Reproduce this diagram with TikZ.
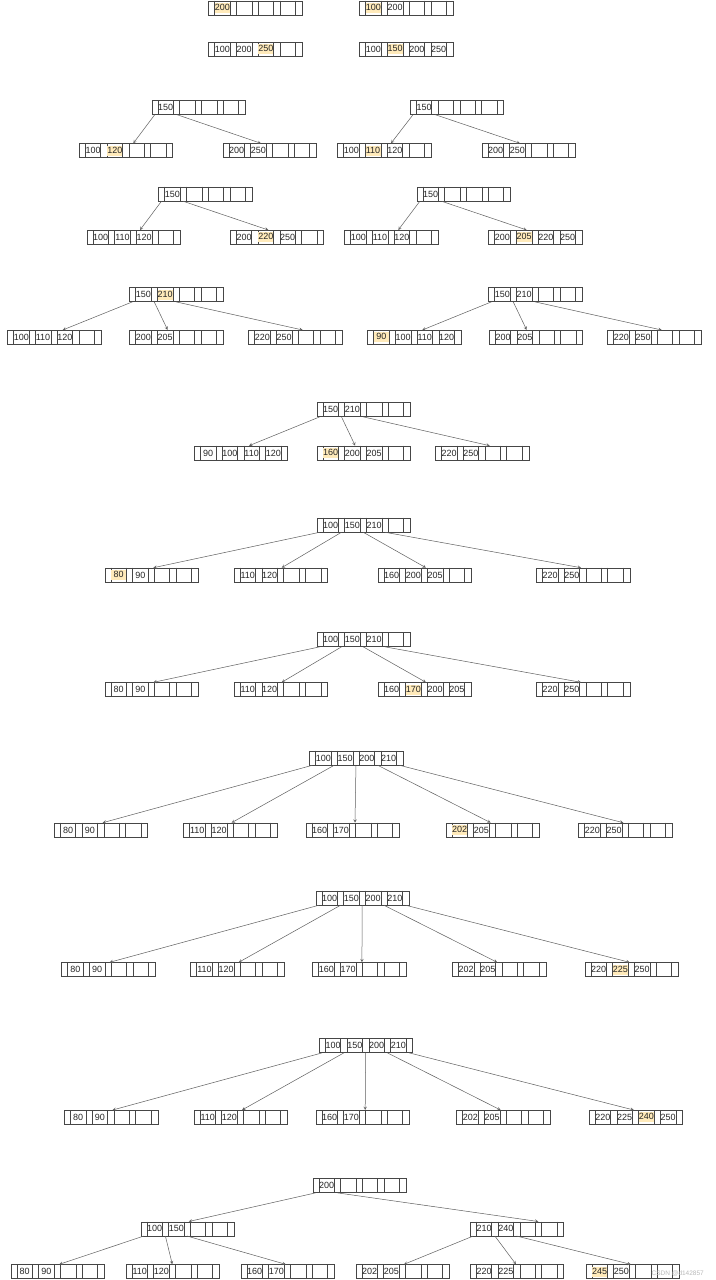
\documentclass[tikz,border=0pt]{standalone}
\usepackage{fontspec}
\setmainfont{Liberation Sans}
\usepackage{tikz}
\usetikzlibrary{arrows,positioning}
\usepackage{xcolor}
\definecolor{cellgray}{RGB}{70,70,70}
\definecolor{linkgray}{RGB}{95,95,95}
\definecolor{hlfill}{RGB}{255,234,186}
\definecolor{wmgray}{RGB}{185,185,185}
\tikzstyle{bnode} = [draw=cellgray, line width=0.55pt, minimum width=93.3pt, minimum height=14pt, inner sep=0pt, anchor=north west]
\tikzstyle{divider} = [draw=cellgray, line width=0.55pt]
\tikzstyle{keytext} = [inner sep=0pt, font=\fontsize{9}{10}\selectfont, text=black!85]
\tikzstyle{link} = [->, >=stealth, draw=linkgray, line width=0.5pt]
\tikzstyle{watermark} = [font=\fontsize{6.5}{8}\selectfont, text=wmgray, anchor=west, inner sep=0pt]

\newcommand{\hikey}[1]{{\setlength{\fboxsep}{0pt}\colorbox{hlfill}{\makebox[15pt]{\rule[-2.5pt]{0pt}{10pt}#1}}}}

% one B-tree node: name, x, y, four keys
\newcommand{\btnode}[7]{%
  \node[bnode] (#1) at (#2,#3) {};
  \foreach \d in {6.3,21.75,28.05,43.5,49.8,65.25,71.55,87}
    \draw[divider] ([xshift=\d pt]#1.north west) -- ([xshift=\d pt]#1.south west);
  \foreach \k/\t in {1/#4,2/#5,3/#6,4/#7}
    \node[keytext] at ([xshift={(14.025+(\k-1)*21.75)*1pt}]#1.west) {\t};
  \foreach \p in {1,...,5}
    \coordinate (#1-p\p) at ([xshift={(3.15+(\p-1)*21.75)*1pt}]#1.south west);
}

\begin{document}
\begin{tikzpicture}[x=1pt, y=-1pt]
\path[fill=white, use as bounding box] (0,0) rectangle (715,1280);

% insert 200, 100
\btnode{s1a}{208.3}{0.6}{\hikey{200}}{}{}{}
\btnode{s1b}{359.3}{0.6}{\hikey{100}}{200}{}{}

% insert 250, 150
\btnode{s2a}{208.3}{42}{100}{200}{\hikey{250}}{}
\btnode{s2b}{359.3}{42}{100}{\hikey{150}}{200}{250}

% insert 120, 110
\btnode{s3a}{151.7}{100}{150}{}{}{}
\btnode{s3a1}{79}{143.3}{100}{\hikey{120}}{}{}
\btnode{s3a2}{222.7}{143.3}{200}{250}{}{}
\foreach \c/\o in {1/54.3,2/38.3}
  \draw[link] (s3a-p\c) -- ([xshift=\o pt]s3a\c.north west);

\btnode{s3b}{410}{100}{150}{}{}{}
\btnode{s3b1}{337.3}{143.3}{100}{\hikey{110}}{120}{}
\btnode{s3b2}{481.7}{143.3}{200}{250}{}{}
\foreach \c/\o in {1/53.7,2/38.3}
  \draw[link] (s3b-p\c) -- ([xshift=\o pt]s3b\c.north west);

% insert 220, 205
\btnode{s4a}{158.3}{186.7}{150}{}{}{}
\btnode{s4a1}{86.7}{230}{100}{110}{120}{}
\btnode{s4a2}{230}{230}{200}{\hikey{220}}{250}{}
\foreach \c/\o in {1/53.3,2/38.3}
  \draw[link] (s4a-p\c) -- ([xshift=\o pt]s4a\c.north west);

\btnode{s4b}{416.7}{186.7}{150}{}{}{}
\btnode{s4b1}{344.3}{230}{100}{110}{120}{}
\btnode{s4b2}{488.3}{230}{200}{\hikey{205}}{220}{250}
\foreach \c/\o in {1/54,2/38.4}
  \draw[link] (s4b-p\c) -- ([xshift=\o pt]s4b\c.north west);

% split, insert 90
\btnode{s5a}{129.3}{287.3}{150}{\hikey{210}}{}{}
\btnode{s5a1}{7.3}{330}{100}{110}{120}{}
\btnode{s5a2}{129.3}{330}{200}{205}{}{}
\btnode{s5a3}{248.3}{330}{220}{250}{}{}
\foreach \c/\o in {1/55.4,2/38.4,3/54.4}
  \draw[link] (s5a-p\c) -- ([xshift=\o pt]s5a\c.north west);

\btnode{s5b}{488.3}{287.3}{150}{210}{}{}
\btnode{s5b1}{367.3}{330}{\hikey{90}}{100}{110}{120}
\btnode{s5b2}{489}{330}{200}{205}{}{}
\btnode{s5b3}{607.3}{330}{220}{250}{}{}
\foreach \c/\o in {1/55,2/37.7,3/54.4}
  \draw[link] (s5b-p\c) -- ([xshift=\o pt]s5b\c.north west);

% insert 160
\btnode{s6a}{316.6}{402.3}{150}{210}{}{}
\btnode{s6a1}{194.1}{445.7}{90}{100}{110}{120}
\btnode{s6a2}{316.6}{445.7}{\hikey{160}}{200}{205}{}
\btnode{s6a3}{435.2}{445.7}{220}{250}{}{}
\foreach \c/\o in {1/54.9,2/38.6,3/54.5}
  \draw[link] (s6a-p\c) -- ([xshift=\o pt]s6a\c.north west);

% insert 80
\btnode{s7a}{316.6}{517.7}{100}{150}{210}{}
\btnode{s7a1}{104.5}{567.7}{\hikey{80}}{90}{}{}
\btnode{s7a2}{233.8}{567.7}{110}{120}{}{}
\btnode{s7a3}{377.6}{567.7}{160}{200}{205}{}
\btnode{s7a4}{536.2}{567.7}{220}{250}{}{}
\foreach \c/\o in {1/48.9,2/47.9,3/48.3,4/44.8}
  \draw[link] (s7a-p\c) -- ([xshift=\o pt]s7a\c.north west);

% insert 170
\btnode{s8a}{316.6}{632.3}{100}{150}{210}{}
\btnode{s8a1}{104.5}{682.3}{80}{90}{}{}
\btnode{s8a2}{233.8}{682.3}{110}{120}{}{}
\btnode{s8a3}{377.6}{682.3}{160}{\hikey{170}}{200}{205}
\btnode{s8a4}{536.2}{682.3}{220}{250}{}{}
\foreach \c/\o in {1/48.9,2/47.9,3/48.3,4/44.8}
  \draw[link] (s8a-p\c) -- ([xshift=\o pt]s8a\c.north west);

% insert 202
\btnode{s9a}{309.3}{750.7}{100}{150}{200}{210}
\btnode{s9a1}{54}{822.7}{80}{90}{}{}
\btnode{s9a2}{183.3}{822.7}{110}{120}{}{}
\btnode{s9a3}{305.7}{822.7}{160}{170}{}{}
\btnode{s9a4}{445.7}{822.7}{\hikey{202}}{205}{}{}
\btnode{s9a5}{578.3}{822.7}{220}{250}{}{}
\foreach \c/\o in {1/48.7,2/48.3,3/49.3,4/45,5/45}
  \draw[link] (s9a-p\c) -- ([xshift=\o pt]s9a\c.north west);

% insert 225
\btnode{s10a}{315.6}{890.7}{100}{150}{200}{210}
\btnode{s10a1}{61.3}{962.3}{80}{90}{}{}
\btnode{s10a2}{190.4}{962.3}{110}{120}{}{}
\btnode{s10a3}{312.3}{962.3}{160}{170}{}{}
\btnode{s10a4}{452.2}{962.3}{202}{205}{}{}
\btnode{s10a5}{584.6}{962.3}{220}{\hikey{225}}{250}{}
\foreach \c/\o in {1/48.3,2/48.3,3/49.6,4/45,5/45}
  \draw[link] (s10a-p\c) -- ([xshift=\o pt]s10a\c.north west);

% insert 240
\btnode{s11a}{319}{1038.3}{100}{150}{200}{210}
\btnode{s11a1}{64.2}{1110}{80}{90}{}{}
\btnode{s11a2}{193.7}{1110}{110}{120}{}{}
\btnode{s11a3}{315.6}{1110}{160}{170}{}{}
\btnode{s11a4}{456.4}{1110}{202}{205}{}{}
\btnode{s11a5}{588.8}{1110}{220}{225}{\hikey{240}}{250}
\foreach \c/\o in {1/48.4,2/48.3,3/49.6,4/44.2,5/45}
  \draw[link] (s11a-p\c) -- ([xshift=\o pt]s11a\c.north west);

% insert 245, root split
\btnode{s12a}{312.5}{1178.3}{200}{}{}{}
\btnode{s12b}{140.5}{1221.5}{100}{150}{}{}
\btnode{s12c}{470}{1221.5}{210}{240}{}{}
\draw[link] (s12a-p1) -- ([xshift=48.3pt]s12b.north west);
\draw[link] (s12a-p2) -- ([xshift=68.3pt]s12c.north west);
\btnode{s12b1}{10.7}{1264.3}{80}{90}{}{}
\btnode{s12b2}{125.7}{1264.3}{110}{120}{}{}
\btnode{s12b3}{240.7}{1264.3}{160}{170}{}{}
\btnode{s12c1}{355.7}{1264.3}{202}{205}{}{}
\btnode{s12c2}{470}{1264.3}{220}{225}{}{}
\btnode{s12c3}{585.7}{1264.3}{\hikey{245}}{250}{}{}
\foreach \c/\o in {1/48.6,2/46.6,3/45}
  \draw[link] (s12b-p\c) -- ([xshift=\o pt]s12b\c.north west);
\foreach \c/\o in {1/48.3,2/46,3/45}
  \draw[link] (s12c-p\c) -- ([xshift=\o pt]s12c\c.north west);

\node[watermark] (wm) at (651.5,1273.8) {CSDN @d142857};
\end{tikzpicture}
\end{document}
